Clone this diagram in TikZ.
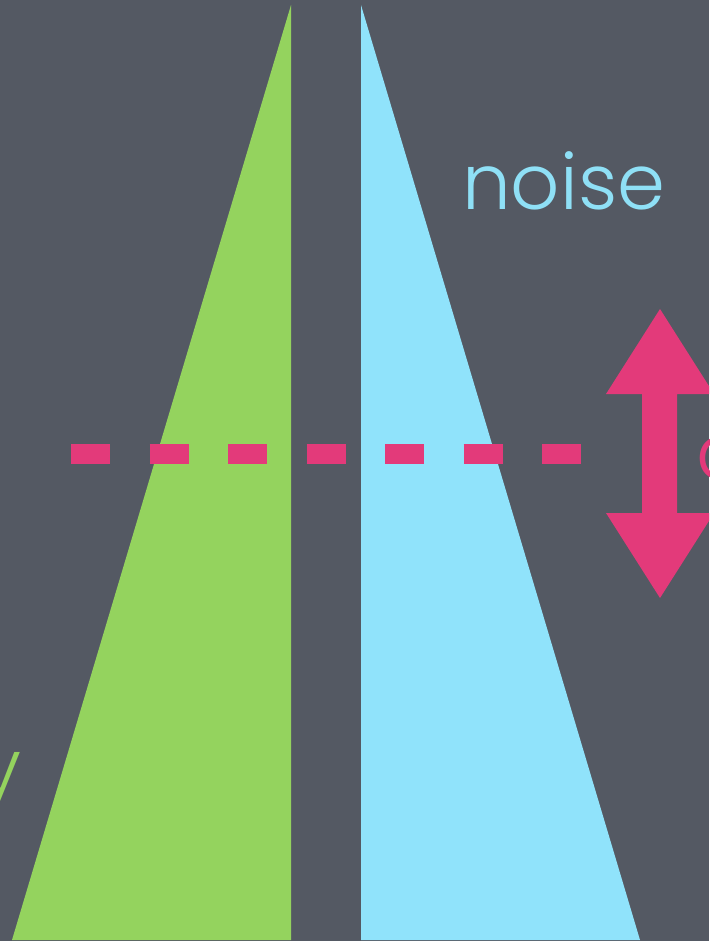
\documentclass[tikz,border=0pt]{standalone}
\usepackage{fontspec}
\newfontfamily\slidefont{Poppins Light}
\definecolor{slate}{HTML}{545963}
\definecolor{leafgreen}{HTML}{94D35E}
\definecolor{skyblue}{HTML}{90E3FB}
\definecolor{noiseblue}{HTML}{8FE0F6}
\definecolor{rosepink}{HTML}{E33A7A}

\begin{document}
\begin{tikzpicture}[
  x=1pt, y=-1pt,
  slidetext/.style={inner sep=0pt, font=\slidefont\fontsize{77}{77}\selectfont},
]
\useasboundingbox (0,0) rectangle (709,941);
\clip (0,0) rectangle (709,941);
\fill[slate] (0,0) rectangle (709,941);

% distributions
\fill[leafgreen] (291,5) -- (291,940) -- (12,940) -- cycle;
\fill[skyblue]   (361,5) -- (361,940) -- (640,940) -- cycle;

% criterion
\draw[rosepink, line width=20, dash pattern=on 39 off 39.5] (71,454) -- (583,454);

% separation arrow
\fill[rosepink] (660,309) -- (714,394) -- (677,394) -- (677,513) -- (714,513)
  -- (660,598) -- (606,513) -- (642,513) -- (642,394) -- (606,394) -- cycle;

% labels
\node[slidetext, text=noiseblue, anchor=base west] (noise) at (462,210) {noise};
\node[slidetext, text=rosepink, anchor=base west] (dprime) at (696,479) {d};
\node[slidetext, text=leafgreen, anchor=base east] (signal) at (22,794) {y};
\end{tikzpicture}
\end{document}
